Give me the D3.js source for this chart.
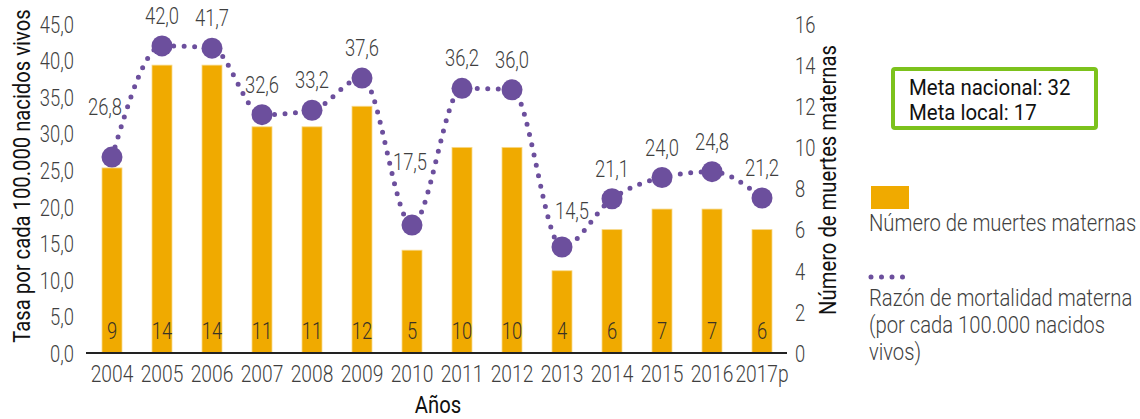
<!doctype html>
<html lang="es">
<head>
<meta charset="utf-8">
<title>Razón de mortalidad materna</title>
<script src="https://d3js.org/d3.v7.min.js"></script>
<style>
  body { margin: 0; background: #fff; }
  svg text { font-family: Roboto, "Noto Sans", sans-serif; }
</style>
</head>
<body>
<svg id="chart" width="1140" height="419"></svg>
<script>
// data
const years = ["2004","2005","2006","2007","2008","2009","2010","2011","2012","2013","2014","2015","2016","2017p"];
const deaths = [9, 14, 14, 11, 11, 12, 5, 10, 10, 4, 6, 7, 7, 6];
const ratio = [26.8, 42.0, 41.7, 32.6, 33.2, 37.6, 17.5, 36.2, 36.0, 14.5, 21.1, 24.0, 24.8, 21.2];
const leftTicks = [0, 5, 10, 15, 20, 25, 30, 35, 40, 45];
const rightTicks = [0, 2, 4, 6, 8, 10, 12, 14, 16];
const goals = ["Meta nacional: 32", "Meta local: 17"];
const legendLine = ["Razón de mortalidad materna", "(por cada 100.000 nacidos", "vivos)"];

const orange = "#F0AA00";
const purple = "#6C4F9D";
const grey = "#3f3f3f";
// the original uses a condensed face; squeeze Roboto horizontally
const SQ = 0.8;   // digits
const SW = 0.88;  // words

const svg = d3.select("#chart");

const x = d3.scaleBand().domain(years).range([87, 787]).paddingInner(0.6).paddingOuter(0.3);
const yL = d3.scaleLinear().domain([0, 45]).range([353, 24]);
const yR = d3.scaleLinear().domain([0, 16]).range([353, 24]);
const fmt = d => d.toFixed(1).replace(".", ",");

function put(sel, px, py, s) {
  return sel.attr("transform", `translate(${px},${py}) scale(${s},1)`);
}

// bars
svg.append("g").selectAll("rect")
  .data(deaths)
  .join("rect")
  .attr("x", (d, i) => x(years[i]))
  .attr("y", d => yR(d))
  .attr("width", x.bandwidth())
  .attr("height", d => yR(0) - yR(d))
  .attr("fill", orange)
  .attr("stroke", "#F7D98A")
  .attr("stroke-width", 0.8);

// bar value labels
svg.append("g").selectAll("text")
  .data(deaths)
  .join("text")
  .each(function(d, i) { put(d3.select(this), x(years[i]) + x.bandwidth() / 2, 339, SQ); })
  .attr("text-anchor", "middle")
  .attr("font-size", 23)
  .attr("font-weight", 300)
  .attr("fill", "#3a3226")
  .text(d => d);

// left axis
const gl = svg.append("g").attr("transform", "translate(74,0)")
  .call(d3.axisLeft(yL).tickValues(leftTicks).tickFormat(fmt).tickSize(0).tickPadding(0));
gl.select(".domain").remove();
gl.selectAll("text").attr("font-size", 23).attr("font-weight", 300).attr("fill", grey)
  .attr("dy", "0.36em").attr("transform", `scale(${SQ},1)`);

// right axis
const gr = svg.append("g").attr("transform", "translate(795,0)")
  .call(d3.axisRight(yR).tickValues(rightTicks).tickSize(0).tickPadding(0));
gr.select(".domain").remove();
gr.selectAll("text").attr("font-size", 23).attr("font-weight", 300).attr("fill", grey)
  .attr("dy", "0.36em").attr("transform", `scale(${SQ},1)`);

// bottom axis
const gb = svg.append("g").attr("transform", "translate(0,353)")
  .call(d3.axisBottom(x).tickSize(0).tickPadding(12));
gb.select(".domain").attr("d", "M86,0H787").attr("stroke", "#222").attr("stroke-width", 2);
gb.selectAll("text").attr("font-size", 24).attr("font-weight", 300).attr("fill", grey)
  .attr("dy", "0.71em").attr("transform", `scale(${SQ},1)`);

// axis titles
put(svg.append("text"), 438, 413, SW)
  .attr("text-anchor", "middle").attr("font-size", 23).attr("fill", "#111")
  .text("Años");
svg.append("text")
  .attr("transform", `translate(30,176) rotate(-90) scale(${SW},1)`)
  .attr("text-anchor", "middle").attr("font-size", 23).attr("fill", "#111")
  .text("Tasa por cada 100.000 nacidos vivos");
svg.append("text")
  .attr("transform", `translate(836,180) rotate(-90) scale(${SW},1)`)
  .attr("text-anchor", "middle").attr("font-size", 23).attr("fill", "#111")
  .text("Número de muertes maternas");

// ratio line
const cx = i => x(years[i]) + x.bandwidth() / 2;
const line = d3.line()
  .x((d, i) => cx(i))
  .y(d => yL(d))
  .curve(d3.curveMonotoneX);
svg.append("path")
  .datum(ratio)
  .attr("d", line)
  .attr("fill", "none")
  .attr("stroke", purple)
  .attr("stroke-width", 5)
  .attr("stroke-linecap", "round")
  .attr("stroke-dasharray", "0 10.5");

svg.append("g").selectAll("circle")
  .data(ratio)
  .join("circle")
  .attr("cx", (d, i) => cx(i))
  .attr("cy", d => yL(d))
  .attr("r", 10.5)
  .attr("fill", purple);

// label nudges for the ratio values (dx, dy from the point)
const nudge = { "2004": [-7, -50], "2010": [-2, -63], "2013": [10, -36] };
svg.append("g").selectAll("text")
  .data(ratio)
  .join("text")
  .each(function(d, i) {
    const n = nudge[years[i]] || [0, -30];
    put(d3.select(this), cx(i) + n[0], yL(d) + n[1] + 8, SQ);
  })
  .attr("text-anchor", "middle")
  .attr("font-size", 23)
  .attr("font-weight", 300)
  .attr("fill", grey)
  .text(fmt);

// goals box
svg.append("rect")
  .attr("x", 893).attr("y", 69).attr("width", 203).attr("height", 59)
  .attr("rx", 2).attr("fill", "#fff")
  .attr("stroke", "#7CC21C").attr("stroke-width", 4);
svg.append("g").selectAll("text")
  .data(goals)
  .join("text")
  .each(function(d, i) { put(d3.select(this), 909, 95 + i * 25, 0.95); })
  .attr("font-size", 21.5)
  .attr("fill", "#111")
  .text(d => d);

// legend
svg.append("rect")
  .attr("x", 871).attr("y", 186).attr("width", 38).attr("height", 23)
  .attr("fill", orange);
put(svg.append("text"), 869, 231, SW)
  .attr("font-size", 23).attr("font-weight", 300).attr("fill", grey)
  .text("Número de muertes maternas");
svg.append("line")
  .attr("x1", 871).attr("x2", 904).attr("y1", 277).attr("y2", 277)
  .attr("stroke", purple).attr("stroke-width", 5)
  .attr("stroke-linecap", "round").attr("stroke-dasharray", "0 10.5");
svg.append("g").selectAll("text")
  .data(legendLine)
  .join("text")
  .each(function(d, i) { put(d3.select(this), 869, 306 + i * 27, SW); })
  .attr("font-size", 23).attr("font-weight", 300).attr("fill", grey)
  .text(d => d);
</script>
</body>
</html>
